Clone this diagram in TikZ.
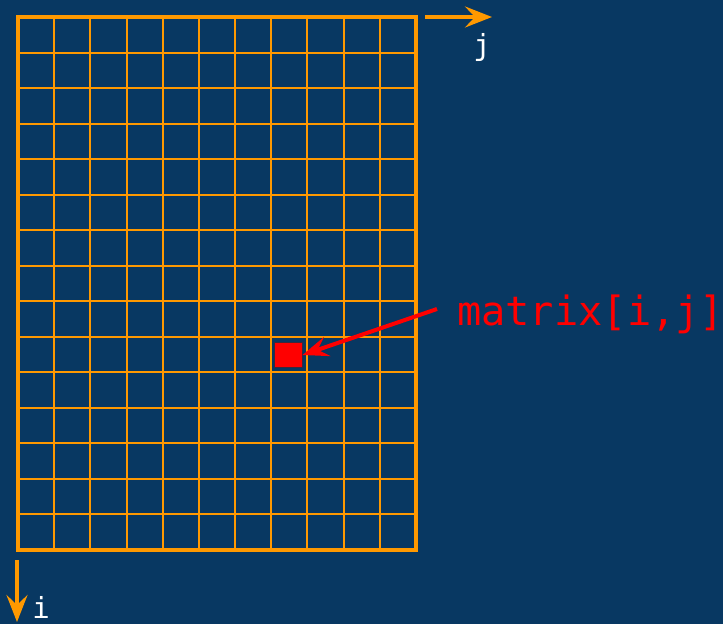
\documentclass[tikz,border=0pt]{standalone}
\usepackage{fontspec}
\newfontfamily\monofam{DejaVu Sans Mono}
\usetikzlibrary{arrows.meta}
\definecolor{bgblue}{RGB}{8,56,98}
\definecolor{gridorange}{RGB}{255,153,0}
\tikzset{
  gridline/.style={draw=gridorange,line width=2pt},
  frameline/.style={draw=gridorange,line width=4pt},
  axisarrow/.style={draw=gridorange,line width=4pt,-{Stealth[length=27pt,width=21pt,inset=10pt]}},
  pointer/.style={draw=red,line width=4pt,-{Stealth[length=26pt,width=20pt,inset=10pt]}},
  axislabel/.style={text=white,font=\monofam\fontsize{29}{34}\selectfont,inner sep=0pt},
  biglabel/.style={text=red,font=\monofam\fontsize{40.3}{46}\selectfont,inner sep=0pt},
}
\begin{document}
\begin{tikzpicture}[x=1pt,y=-1pt]
\fill[bgblue] (0,0) rectangle (723,624);
\useasboundingbox (0,0) rectangle (723,624);
% grid
\foreach \k in {1,...,10} {
  \draw[gridline] ({18+\k*398/11},17) -- ({18+\k*398/11},550);
}
\foreach \k in {1,...,14} {
  \draw[gridline] (18,{17+\k*533/15}) -- (416,{17+\k*533/15});
}
\draw[frameline] (18,17) rectangle (416,550);
% red cell
\node[draw={rgb,255:red,60;green,40;blue,60},line width=1pt,fill=red,minimum width=28pt,minimum height=25pt,inner sep=0pt] (cell) at (288,355) {};
% axes
\coordinate (jstart) at (425,17);
\coordinate (jend) at (492,17);
\draw[axisarrow] (jstart) -- (jend);
\node[axislabel,anchor=base] (jlab) at (482,55) {j};
\coordinate (istart) at (17,560);
\coordinate (iend) at (17,622);
\draw[axisarrow] (istart) -- (iend);
\node[axislabel,anchor=base] (ilab) at (41,618) {i};
% label
\node[biglabel,anchor=base west] (mlab) at (457,325) {matrix[i,j]};
\coordinate (pstart) at (437,309);
\draw[pointer] (pstart) -- (cell.east);
\end{tikzpicture}
\end{document}
